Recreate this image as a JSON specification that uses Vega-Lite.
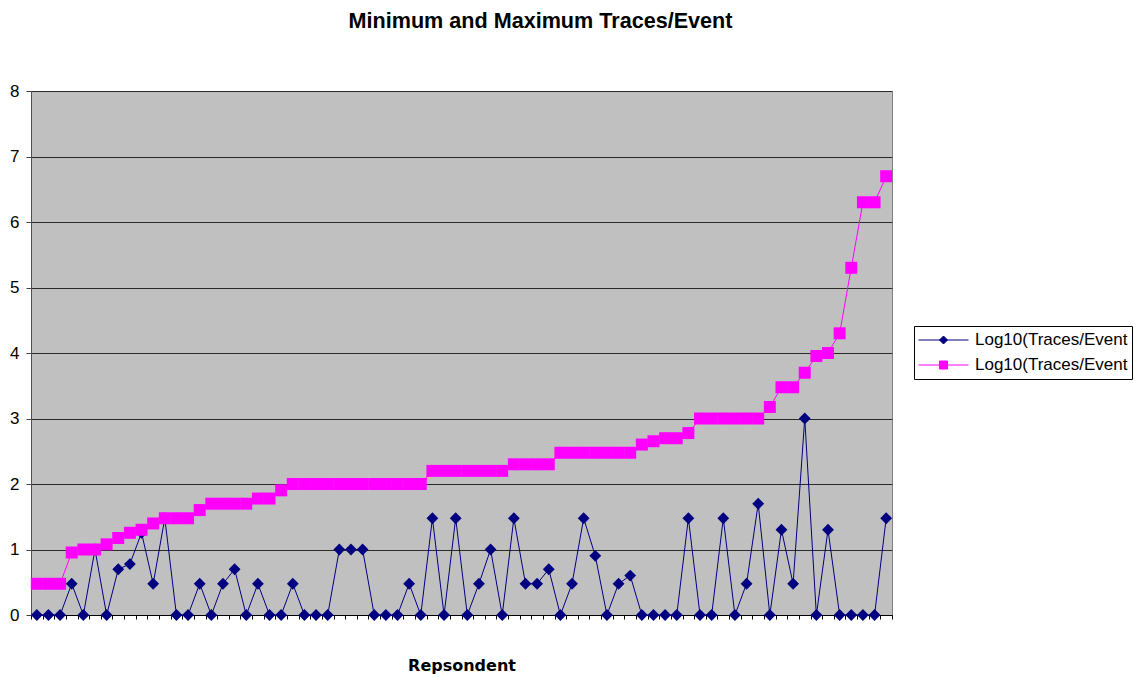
{
  "$schema": "https://vega.github.io/schema/vega-lite/v6.json",
  "width": 861,
  "height": 524,
  "autosize": {"type": "none"},
  "padding": {"left": 31, "top": 91, "right": 252, "bottom": 62},
  "background": "white",
  "title": {
    "text": "Minimum and Maximum Traces/Event",
    "font": "Liberation Sans",
    "fontSize": 21.6,
    "fontWeight": "bold",
    "color": "#000000",
    "anchor": "middle",
    "baseline": "alphabetic",
    "offset": 32,
    "dx": 79
  },
  "config": {
    "view": {"fill": "#C0C0C0", "stroke": "#808080", "strokeWidth": 1},
    "axis": {"labelFont": "Liberation Sans", "titleFont": "DejaVu Sans"}
  },
  "data": {
    "values": [
      {"r": 1, "Min": 0, "Max": 0.477},
      {"r": 2, "Min": 0, "Max": 0.477},
      {"r": 3, "Min": 0, "Max": 0.477},
      {"r": 4, "Min": 0.477, "Max": 0.954},
      {"r": 5, "Min": 0, "Max": 1},
      {"r": 6, "Min": 1, "Max": 1},
      {"r": 7, "Min": 0, "Max": 1.079},
      {"r": 8, "Min": 0.699, "Max": 1.176},
      {"r": 9, "Min": 0.778, "Max": 1.255},
      {"r": 10, "Min": 1.255, "Max": 1.301},
      {"r": 11, "Min": 0.477, "Max": 1.398},
      {"r": 12, "Min": 1.477, "Max": 1.477},
      {"r": 13, "Min": 0, "Max": 1.477},
      {"r": 14, "Min": 0, "Max": 1.477},
      {"r": 15, "Min": 0.477, "Max": 1.602},
      {"r": 16, "Min": 0, "Max": 1.699},
      {"r": 17, "Min": 0.477, "Max": 1.699},
      {"r": 18, "Min": 0.699, "Max": 1.699},
      {"r": 19, "Min": 0, "Max": 1.699},
      {"r": 20, "Min": 0.477, "Max": 1.778},
      {"r": 21, "Min": 0, "Max": 1.778},
      {"r": 22, "Min": 0, "Max": 1.903},
      {"r": 23, "Min": 0.477, "Max": 2},
      {"r": 24, "Min": 0, "Max": 2},
      {"r": 25, "Min": 0, "Max": 2},
      {"r": 26, "Min": 0, "Max": 2},
      {"r": 27, "Min": 1, "Max": 2},
      {"r": 28, "Min": 1, "Max": 2},
      {"r": 29, "Min": 1, "Max": 2},
      {"r": 30, "Min": 0, "Max": 2},
      {"r": 31, "Min": 0, "Max": 2},
      {"r": 32, "Min": 0, "Max": 2},
      {"r": 33, "Min": 0.477, "Max": 2},
      {"r": 34, "Min": 0, "Max": 2},
      {"r": 35, "Min": 1.477, "Max": 2.2},
      {"r": 36, "Min": 0, "Max": 2.2},
      {"r": 37, "Min": 1.477, "Max": 2.2},
      {"r": 38, "Min": 0, "Max": 2.2},
      {"r": 39, "Min": 0.477, "Max": 2.2},
      {"r": 40, "Min": 1, "Max": 2.2},
      {"r": 41, "Min": 0, "Max": 2.2},
      {"r": 42, "Min": 1.477, "Max": 2.301},
      {"r": 43, "Min": 0.477, "Max": 2.301},
      {"r": 44, "Min": 0.477, "Max": 2.301},
      {"r": 45, "Min": 0.699, "Max": 2.301},
      {"r": 46, "Min": 0, "Max": 2.477},
      {"r": 47, "Min": 0.477, "Max": 2.477},
      {"r": 48, "Min": 1.477, "Max": 2.477},
      {"r": 49, "Min": 0.903, "Max": 2.477},
      {"r": 50, "Min": 0, "Max": 2.477},
      {"r": 51, "Min": 0.477, "Max": 2.477},
      {"r": 52, "Min": 0.602, "Max": 2.477},
      {"r": 53, "Min": 0, "Max": 2.602},
      {"r": 54, "Min": 0, "Max": 2.653},
      {"r": 55, "Min": 0, "Max": 2.699},
      {"r": 56, "Min": 0, "Max": 2.699},
      {"r": 57, "Min": 1.477, "Max": 2.778},
      {"r": 58, "Min": 0, "Max": 3},
      {"r": 59, "Min": 0, "Max": 3},
      {"r": 60, "Min": 1.477, "Max": 3},
      {"r": 61, "Min": 0, "Max": 3},
      {"r": 62, "Min": 0.477, "Max": 3},
      {"r": 63, "Min": 1.699, "Max": 3},
      {"r": 64, "Min": 0, "Max": 3.176},
      {"r": 65, "Min": 1.301, "Max": 3.477},
      {"r": 66, "Min": 0.477, "Max": 3.477},
      {"r": 67, "Min": 3, "Max": 3.699},
      {"r": 68, "Min": 0, "Max": 3.954},
      {"r": 69, "Min": 1.301, "Max": 4},
      {"r": 70, "Min": 0, "Max": 4.301},
      {"r": 71, "Min": 0, "Max": 5.301},
      {"r": 72, "Min": 0, "Max": 6.301},
      {"r": 73, "Min": 0, "Max": 6.301},
      {"r": 74, "Min": 1.477, "Max": 6.699}
    ]
  },
  "transform": [{"fold": ["Min", "Max"], "as": ["series", "v"]}],
  "encoding": {
    "x": {
      "field": "r",
      "type": "quantitative",
      "scale": {"domain": [0.5, 74.5], "nice": false, "zero": false},
      "axis": {
        "title": "Repsondent",
        "titleFontSize": 16,
        "titleFontWeight": "bold",
        "titleColor": "#000000",
        "titleBaseline": "alphabetic",
        "titleY": 55,
        "labels": false,
        "grid": false,
        "domainColor": "#000000",
        "tickColor": "#000000",
        "tickSize": 4,
        "values": [0.5,1.5,2.5,3.5,4.5,5.5,6.5,7.5,8.5,9.5,10.5,11.5,12.5,13.5,14.5,15.5,16.5,17.5,18.5,19.5,20.5,21.5,22.5,23.5,24.5,25.5,26.5,27.5,28.5,29.5,30.5,31.5,32.5,33.5,34.5,35.5,36.5,37.5,38.5,39.5,40.5,41.5,42.5,43.5,44.5,45.5,46.5,47.5,48.5,49.5,50.5,51.5,52.5,53.5,54.5,55.5,56.5,57.5,58.5,59.5,60.5,61.5,62.5,63.5,64.5,65.5,66.5,67.5,68.5,69.5,70.5,71.5,72.5,73.5,74.5]
      }
    },
    "y": {
      "field": "v",
      "type": "quantitative",
      "scale": {"domain": [0, 8], "nice": false},
      "axis": {
        "title": null,
        "values": [0, 1, 2, 3, 4, 5, 6, 7, 8],
        "labelFontSize": 17,
        "labelColor": "#000000",
        "labelPadding": 7,
        "tickSize": 5,
        "tickColor": "#404040",
        "domainColor": "#505050",
        "gridColor": "#2a2a2a",
        "gridOpacity": 1,
        "gridWidth": 1
      }
    },
    "color": {
      "field": "series",
      "type": "nominal",
      "scale": {"domain": ["Min", "Max"], "range": ["#000080", "#FF00FF"]},
      "legend": {
        "title": null,
        "orient": "none",
        "legendX": 883,
        "legendY": 235,
        "padding": 4,
        "fillColor": "#FFFFFF",
        "strokeColor": "#000000",
        "symbolSize": 2500,
        "symbolStrokeWidth": 1,
        "clipHeight": 20,
        "rowPadding": 5,
        "labelOffset": 6,
        "labelFont": "Liberation Sans",
        "labelFontSize": 17,
        "labelColor": "#000000",
        "labelLimit": 400,
        "labelExpr": "'Log10(Traces/Event'",
        "encode": {
          "symbols": {
            "update": {
              "shape": {"signal": "datum.value === 'Min' ? 'M-1,0H1M0,-0.16L0.16,0L0,0.16L-0.16,0Z' : 'M-1,0H1M-0.16,-0.16H0.16V0.16H-0.16Z'"},
              "fill": {"signal": "scale('color', datum.value)"},
              "stroke": {"signal": "scale('color', datum.value)"},
              "strokeWidth": {"value": 1}
            }
          }
        }
      }
    }
  },
  "layer": [
    {
      "transform": [{"filter": "datum.series === 'Min'"}],
      "mark": {"type": "line", "strokeWidth": 1}
    },
    {
      "transform": [{"filter": "datum.series === 'Min'"}],
      "mark": {"type": "point", "shape": "diamond", "filled": true, "size": 140, "opacity": 1, "strokeWidth": 0}
    },
    {
      "transform": [{"filter": "datum.series === 'Max'"}],
      "mark": {"type": "line", "strokeWidth": 1}
    },
    {
      "transform": [{"filter": "datum.series === 'Max'"}],
      "mark": {"type": "point", "shape": "square", "filled": true, "size": 144, "opacity": 1, "strokeWidth": 0}
    }
  ]
}
